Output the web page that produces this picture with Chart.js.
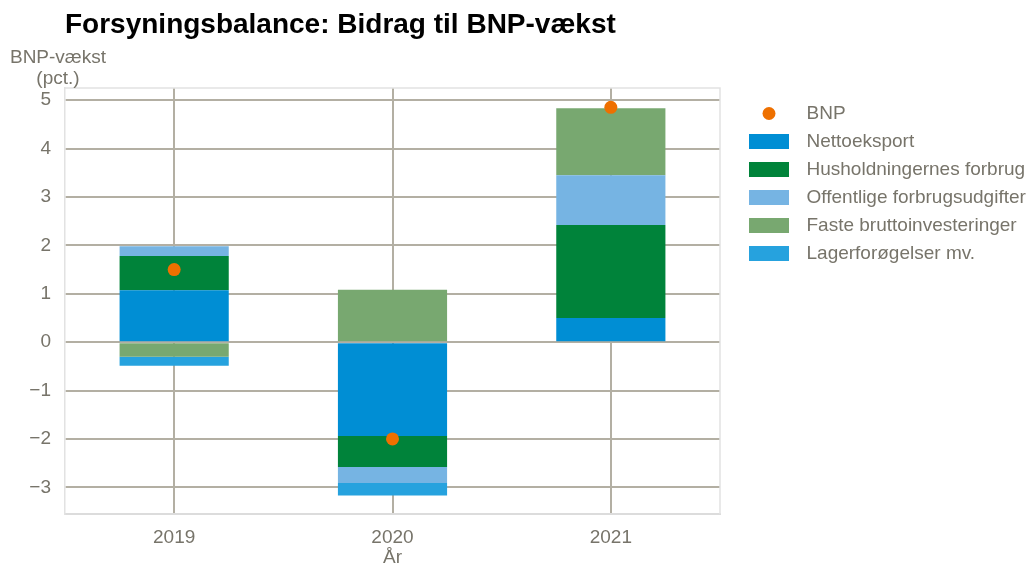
<!DOCTYPE html>
<html>
<head>
<meta charset="utf-8">
<script src="https://cdn.jsdelivr.net/npm/chart.js@4"></script>
<style>
  body { margin: 0; background: #fff; font-family: "Liberation Sans", Arial, sans-serif; }
  #wrap { position: relative; width: 1032px; height: 566px; }
  #title { position: absolute; left: 65px; top: 8px; font-size: 28px; font-weight: bold; color: #000; white-space: nowrap; }
  #ytitle { position: absolute; left: 0px; top: 46px; width: 116px; text-align: center; font-size: 19px; line-height: 21px; color: #77746a; }
</style>
</head>
<body>
<div id="wrap">
  <canvas id="chart"></canvas>
  <div id="title">Forsyningsbalance: Bidrag til BNP-vækst</div>
  <div id="ytitle">BNP-vækst<br>(pct.)</div>
</div>
<script>
var years = ['2019', '2020', '2021'];
var bnp = [1.5, -2.0, 4.85];
var nettoeksport = [1.07, -1.94, 0.5];
var husholdninger = [0.71, -0.64, 1.92];
var offentlige = [0.2, -0.33, 1.03];
var faste = [-0.3, 1.08, 1.38];
var lager = [-0.19, -0.26, 0];

var textColor = '#77746a';
var gridColor = '#b3afa3';
var font = "'Liberation Sans', Arial, sans-serif";
var colors = ['#ee7000', '#008ed4', '#00833a', '#76b4e3', '#78a870', '#26a2de'];

// ikon til forklaringen
function legendIcon(color, round) {
    var c = document.createElement('canvas');
    c.width = 68; c.height = 15;
    var g = c.getContext('2d');
    g.fillStyle = color;
    if (round) {
        g.beginPath();
        g.arc(40, 7.5, 6.5, 0, Math.PI * 2);
        g.fill();
    } else {
        g.fillRect(20, 0, 40, 15);
    }
    return c;
}

var frame = {
    id: 'frame',
    beforeInit: function(chart) {
        var fit = chart.legend.fit;
        chart.legend.fit = function() {
            fit.bind(chart.legend)();
            this.width = 312;
        };
    },
    afterLayout: function(chart) {
        chart.legend.top += 7;
        chart.legend.bottom += 7;
    },
    beforeDatasetsDraw: function(chart) {
        var a = chart.chartArea, ctx = chart.ctx;
        ctx.save();
        ctx.strokeStyle = '#e2e2e2';
        ctx.lineWidth = 1.5;
        ctx.beginPath();
        ctx.moveTo(a.left, a.top); ctx.lineTo(a.right, a.top); ctx.lineTo(a.right, a.bottom);
        ctx.stroke();
        ctx.restore();
    }
};

function bar(label, data, color) {
    return { type: 'bar', label: label, data: data, backgroundColor: color, borderWidth: 0, order: 1,
             stack: 'bidrag', barPercentage: 0.5, categoryPercentage: 1 };
}

var ctx = document.getElementById('chart').getContext('2d');
var chart = new Chart(ctx, {
    data: {
        labels: years,
        datasets: [
            { type: 'line', label: 'BNP', data: bnp, showLine: false, order: 0, stack: 'bnp',
              pointRadius: 6.5, pointHoverRadius: 6.5, pointBorderWidth: 0,
              backgroundColor: colors[0], borderColor: colors[0], pointStyle: 'circle' },
            bar('Nettoeksport', nettoeksport, colors[1]),
            bar('Husholdningernes forbrug', husholdninger, colors[2]),
            bar('Offentlige forbrugsudgifter', offentlige, colors[3]),
            bar('Faste bruttoinvesteringer', faste, colors[4]),
            bar('Lagerforøgelser mv.', lager, colors[5])
        ]
    },
    options: {
        responsive: true,
        maintainAspectRatio: false,
        animation: false,
        layout: { padding: { top: 88, left: 0, right: 0, bottom: 0 } },
        plugins: {
            tooltip: { enabled: false },
            legend: {
                position: 'right',
                align: 'start',
                labels: {
                    usePointStyle: true,
                    pointStyleWidth: 68,
                    padding: 9,
                    color: textColor,
                    font: { family: font, size: 19 },
                    generateLabels: function(chart) {
                        var items = Chart.defaults.plugins.legend.labels.generateLabels(chart);
                        items.forEach(function(it) {
                            it.pointStyle = legendIcon(colors[it.datasetIndex], it.datasetIndex === 0);
                        });
                        return items;
                    }
                }
            }
        },
        scales: {
            x: {
                stacked: true,
                grid: { color: gridColor, lineWidth: 2, drawTicks: false, offset: false },
                border: { color: '#dcdcdc', width: 2 },
                ticks: { color: textColor, font: { family: font, size: 19 }, padding: 12 },
                title: { display: true, text: 'År', color: textColor, font: { family: font, size: 19 }, padding: { top: 0, bottom: -3 } },
                afterFit: function(scale) { scale.height = 52; }
            },
            y: {
                stacked: true,
                min: -3.55,
                max: 5.25,
                grid: { color: gridColor, lineWidth: 2, drawTicks: false },
                border: { color: '#e2e2e2', width: 1.5 },
                ticks: {
                    stepSize: 1,
                    includeBounds: false,
                    padding: 14,
                    color: textColor,
                    font: { family: font, size: 19 },
                    callback: function(value) {
                        return value < 0 ? '\u2212' + Math.abs(value) : String(value);
                    }
                },
                afterFit: function(scale) { scale.width = 65; }
            }
        }
    },
    plugins: [frame]
});
</script>
</body>
</html>
